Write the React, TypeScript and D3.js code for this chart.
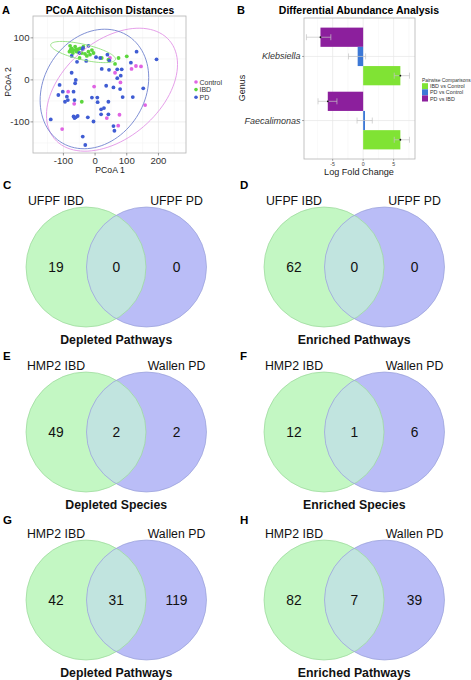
import React from 'react';
import * as d3 from 'd3';

// ---- panel A data: PCoA coordinates ----
const controlPts: [number, number][] = [
  [47, 52], [63, 17], [80, -6], [-3, -16], [-85, -28], [-66, -57], [37, -91],
  [77, -83], [73, -109], [-104, -117], [115, 26], [129, 33], [145, 32], [158, -60],
];
const ibdPts: [number, number][] = [
  [-79, 81], [-74, 75], [-68, 71], [-81, 67], [-63, 79], [-58, 67], [-70, 64],
  [-53, 73], [-47, 75], [-37, 79], [-42, 64], [-32, 62], [-21, 67], [-16, 60],
  [-10, 71], [-5, 64], [-49, 52], [-26, 57], [-77, 72], [-72, 68], [-60, 72],
  [21, 52], [42, 48], [74, 52], [100, 56], [63, 38], [-42, -52],
];
const pdPts: [number, number][] = [
  [-21, 81], [-39, 73], [-74, 57], [3, 54], [16, 52], [39, 60], [45, 46],
  [21, 26], [44, 24], [70, 25], [84, 25], [113, 41], [131, 67], [194, 49],
  [-74, 17], [-61, 0], [-63, -8], [-112, -12], [-102, -28], [-116, -36],
  [-89, -40], [-68, -28], [-95, -52], [-86, -48], [-65, -48], [-68, -87],
  [-61, -89], [-55, -86], [-65, -91], [-140, -94], [-23, -89], [-5, -99],
  [-39, -135], [-31, -155], [-10, -42], [7, -42], [8, -53], [19, -70],
  [28, -67], [19, -82], [42, -82], [42, -52], [35, -14], [58, -18], [79, -22],
  [87, -41], [119, -41], [152, -20], [70, 4], [81, 10], [58, -110], [61, -121],
  [-57, 43], [-28, 45], [-50, 64], [-38, 76],
];
const groups = ['Control', 'IBD', 'PD'];
const groupPts = [controlPts, ibdPts, pdPts];
const groupColors = ['#df64e3', '#5cd63d', '#3f5cd3'];
const ellipseColors = ['#e294e6', '#90e07a', '#7283cf'];
const pcoaXTicks = [-100, 0, 100, 200];
const pcoaYTicks = [-100, 0, 100];

// ---- panel B data: log fold change per genus ----
const genera = ['Klebsiella', 'Faecalimonas'];
const comparisons = ['PD vs IBD', 'PD vs Control', 'IBD vs Control'];
const legendOrder = ['IBD vs Control', 'PD vs Control', 'PD vs IBD'];
const compColors: Record<string, string> = {
  'IBD vs Control': '#80e334',
  'PD vs Control': '#3c78d6',
  'PD vs IBD': '#8c1f9d',
};
const klebsiellaLfc = [-7.0, -0.9, 6.1];
const klebsiellaLow = [-9.3, -2.4, 5.1];
const klebsiellaHigh = [-5.3, 0.4, 7.6];
const faecalimonasLfc = [-5.8, 0.3, 6.1];
const faecalimonasLow = [-7.4, -1.0, 5.1];
const faecalimonasHigh = [-4.3, 1.5, 7.6];
const lfcTicks = [-5, 0, 5];

// ---- Venn panels ----
const vennTags = ['C', 'D', 'E', 'F', 'G', 'H'];
const vennLeftNames = ['UFPF IBD', 'UFPF IBD', 'HMP2 IBD', 'HMP2 IBD', 'HMP2 IBD', 'HMP2 IBD'];
const vennRightNames = ['UFPF PD', 'UFPF PD', 'Wallen PD', 'Wallen PD', 'Wallen PD', 'Wallen PD'];
const vennLeftOnly = [19, 62, 49, 12, 42, 82];
const vennShared = [0, 0, 2, 1, 31, 7];
const vennRightOnly = [0, 0, 2, 6, 119, 39];
const vennTitles = [
  'Depleted Pathways', 'Enriched Pathways',
  'Depleted Species', 'Enriched Species',
  'Depleted Pathways', 'Enriched Pathways',
];

const FONT = 'Liberation Sans, Arial, sans-serif';

// robust (multivariate t) ellipse, like ggplot's stat_ellipse
function trobEllipse(pts: [number, number][], level = 0.95) {
  const n = pts.length, nu = 5, p = 2;
  let w = pts.map(() => 1);
  let loc = [d3.mean(pts, (d) => d[0])!, d3.mean(pts, (d) => d[1])!];
  let X = pts.map((d) => [d[0] - loc[0], d[1] - loc[1]]);
  for (let it = 0; it < 100; it++) {
    X = pts.map((d) => [d[0] - loc[0], d[1] - loc[1]]);
    const sw = d3.sum(w);
    let a = 0, b = 0, c = 0;
    X.forEach((x, i) => {
      a += w[i] * x[0] * x[0];
      b += w[i] * x[0] * x[1];
      c += w[i] * x[1] * x[1];
    });
    a /= sw; b /= sw; c /= sw;
    const det = a * c - b * b;
    const Q = X.map((x) => (c * x[0] * x[0] - 2 * b * x[0] * x[1] + a * x[1] * x[1]) / det);
    w = Q.map((q) => (nu + p) / (nu + q));
    const sw2 = d3.sum(w);
    loc = [d3.sum(pts, (d, i) => w[i] * d[0]) / sw2, d3.sum(pts, (d, i) => w[i] * d[1]) / sw2];
  }
  let a = 0, b = 0, c = 0;
  X.forEach((x, i) => {
    a += w[i] * x[0] * x[0];
    b += w[i] * x[0] * x[1];
    c += w[i] * x[1] * x[1];
  });
  a /= n; b /= n; c /= n;
  const dfd = n - 1;
  const qf = (dfd / 2) * (Math.pow(1 - level, -2 / dfd) - 1);
  const radius = Math.sqrt(2 * qf);
  const r11 = Math.sqrt(a), r12 = b / r11, r22 = Math.sqrt(c - r12 * r12);
  return d3.range(0, 101).map((k) => {
    const t = (k / 100) * 2 * Math.PI;
    const u = Math.cos(t), v = Math.sin(t);
    return [loc[0] + radius * u * r11, loc[1] + radius * (u * r12 + v * r22)] as [number, number];
  });
}

function PanelA() {
  const x = d3.scaleLinear().domain([-196, 287]).range([33, 186]);
  const y = d3.scaleLinear().domain([-174, 152]).range([153, 16]);
  const line = d3.line<[number, number]>().x((d) => x(d[0])).y((d) => y(d[1]));
  const minorX = [-150, -50, 50, 150, 250];
  const minorY = [-150, -50, 50, 150];
  return (
    <g fontFamily={FONT}>
      <text x={2} y={14} fontSize={11} fontWeight="bold">A</text>
      <text x={110} y={14} fontSize={10.3} fontWeight="bold" textAnchor="middle">PCoA Aitchison Distances</text>
      <clipPath id="clipA"><rect x={33} y={16} width={153} height={137} /></clipPath>
      <rect x={33} y={16} width={153} height={137} fill="#fff" />
      {minorX.map((v) => <line key={'mx' + v} x1={x(v)} x2={x(v)} y1={16} y2={153} stroke="#f3f3f3" strokeWidth={0.5} />)}
      {minorY.map((v) => <line key={'my' + v} x1={33} x2={186} y1={y(v)} y2={y(v)} stroke="#f3f3f3" strokeWidth={0.5} />)}
      {pcoaXTicks.map((v) => <line key={'gx' + v} x1={x(v)} x2={x(v)} y1={16} y2={153} stroke="#e6e6e6" strokeWidth={0.7} />)}
      {pcoaYTicks.map((v) => <line key={'gy' + v} x1={33} x2={186} y1={y(v)} y2={y(v)} stroke="#e6e6e6" strokeWidth={0.7} />)}
      <g clipPath="url(#clipA)">
        {groupPts.map((pts, gi) =>
          pts.map((d, i) => <circle key={gi + '-' + i} cx={x(d[0])} cy={y(d[1])} r={1.9} fill={groupColors[gi]} />)
        )}
        {groupPts.map((pts, gi) => (
          <path key={'e' + gi} d={line(trobEllipse(pts)) || ''} fill="none" stroke={ellipseColors[gi]} strokeWidth={0.9} />
        ))}
      </g>
      <rect x={33} y={16} width={153} height={137} fill="none" stroke="#b5b5b5" strokeWidth={0.8} />
      {pcoaXTicks.map((v) => (
        <g key={'tx' + v}>
          <line x1={x(v)} x2={x(v)} y1={153} y2={155.5} stroke="#555" strokeWidth={0.6} />
          <text x={x(v)} y={163.5} fontSize={9.6} textAnchor="middle" fill="#333">{v}</text>
        </g>
      ))}
      {pcoaYTicks.map((v) => (
        <g key={'ty' + v}>
          <line x1={30.5} x2={33} y1={y(v)} y2={y(v)} stroke="#555" strokeWidth={0.6} />
          <text x={29.5} y={y(v)} fontSize={9.6} textAnchor="end" dominantBaseline="central" fill="#333">{v}</text>
        </g>
      ))}
      <text x={110} y={173} fontSize={8.7} textAnchor="middle" fill="#222">PCoA 1</text>
      <text transform="translate(8,82) rotate(-90)" fontSize={8.7} textAnchor="middle" dominantBaseline="central" fill="#222">PCoA 2</text>
      {groups.map((g, i) => (
        <g key={g}>
          <circle cx={196} cy={82 + i * 7.6} r={1.8} fill={groupColors[i]} />
          <text x={199.5} y={82 + i * 7.6} fontSize={7} dominantBaseline="central" fill="#333">{g}</text>
        </g>
      ))}
    </g>
  );
}

function PanelB() {
  const x = d3.scaleLinear().domain([-9.7, 8.5]).range([304, 415]);
  const yGenus = d3.scalePoint<string>().domain(genera).range([18, 159]).padding(0.6);
  const step = yGenus.step();
  const yComp = d3.scaleBand<string>().domain(comparisons).range([-0.45 * step, 0.45 * step]);
  const lfc = [klebsiellaLfc, faecalimonasLfc];
  const low = [klebsiellaLow, faecalimonasLow];
  const high = [klebsiellaHigh, faecalimonasHigh];
  const minorX = [-7.5, -2.5, 2.5, 7.5];
  const bw = yComp.bandwidth();
  return (
    <g fontFamily={FONT}>
      <text x={237} y={14} fontSize={11} fontWeight="bold">B</text>
      <text x={359} y={14} fontSize={10.5} fontWeight="bold" textAnchor="middle">Differential Abundance Analysis</text>
      <rect x={304} y={18} width={111} height={141} fill="#fff" />
      {minorX.map((v) => <line key={'m' + v} x1={x(v)} x2={x(v)} y1={18} y2={159} stroke="#f3f3f3" strokeWidth={0.5} />)}
      {lfcTicks.map((v) => <line key={'g' + v} x1={x(v)} x2={x(v)} y1={18} y2={159} stroke="#e6e6e6" strokeWidth={0.7} />)}
      {genera.map((g) => <line key={'gy' + g} x1={304} x2={415} y1={yGenus(g)} y2={yGenus(g)} stroke="#e6e6e6" strokeWidth={0.7} />)}
      {genera.map((g, gi) =>
        comparisons.map((c, ci) => {
          const yc = yGenus(g)! + yComp(c)!;
          const v = lfc[gi][ci];
          return (
            <rect key={g + c} x={Math.min(x(0), x(v))} width={Math.abs(x(v) - x(0))} y={yc} height={bw} fill={compColors[c]} />
          );
        })
      )}
      {genera.map((g, gi) =>
        comparisons.map((c, ci) => {
          const ym = yGenus(g)! + yComp(c)! + bw / 2;
          return (
            <g key={'eb' + g + c} stroke="#c4c4c4" strokeWidth={0.7}>
              <line x1={x(low[gi][ci])} x2={x(high[gi][ci])} y1={ym} y2={ym} />
              <line x1={x(low[gi][ci])} x2={x(low[gi][ci])} y1={ym - 3} y2={ym + 3} />
              <line x1={x(high[gi][ci])} x2={x(high[gi][ci])} y1={ym - 3} y2={ym + 3} />
            </g>
          );
        })
      )}
      {genera.map((g, gi) =>
        comparisons.map((c, ci) => {
          const ym = yGenus(g)! + yComp(c)! + bw / 2;
          return ci === 1 ? null : <circle key={'pt' + g + c} cx={x(lfc[gi][ci])} cy={ym} r={0.9} fill="#111" />;
        })
      )}
      <rect x={304} y={18} width={111} height={141} fill="none" stroke="#b5b5b5" strokeWidth={0.8} />
      {lfcTicks.map((v) => (
        <g key={'t' + v}>
          <line x1={x(v)} x2={x(v)} y1={159} y2={161} stroke="#555" strokeWidth={0.5} />
          <text x={x(v)} y={166} fontSize={5.2} textAnchor="middle" fill="#444">{v}</text>
        </g>
      ))}
      {genera.map((g) => (
        <g key={'l' + g}>
          <line x1={302} x2={304} y1={yGenus(g)} y2={yGenus(g)} stroke="#555" strokeWidth={0.5} />
          <text x={300.5} y={yGenus(g)} fontSize={9} fontStyle="italic" textAnchor="end" dominantBaseline="central" fill="#333">{g}</text>
        </g>
      ))}
      <text x={359} y={175} fontSize={9.1} textAnchor="middle" fill="#222">Log Fold Change</text>
      <text transform="translate(242,88) rotate(-90)" fontSize={9} textAnchor="middle" dominantBaseline="central" fill="#222">Genus</text>
      <text x={422} y={81.5} fontSize={4.9} fill="#333">Pairwise Comparisons</text>
      {legendOrder.map((c, i) => (
        <g key={'lg' + c}>
          <rect x={422} y={83.2 + i * 6.1} width={6} height={6.1} fill={compColors[c]} />
          <text x={430} y={86.3 + i * 6.1} fontSize={5.4} dominantBaseline="central" fill="#333">{c}</text>
        </g>
      ))}
    </g>
  );
}

function Venn({ idx }: { idx: number }) {
  const col = idx % 2, row = Math.floor(idx / 2);
  const colX = [86, 324];
  const rowY = [267, 432, 600];
  const tagY = [185, 356, 520];
  const r = 60, sep = 60.5;
  const cxL = colX[col], cxR = colX[col] + sep, cy = rowY[row];
  const clipId = 'vclip' + idx;
  return (
    <g fontFamily={FONT}>
      <text x={col === 0 ? 3 : 240} y={tagY[row]} fontSize={11.5} fontWeight="bold" dominantBaseline="central">{vennTags[idx]}</text>
      <text x={cxL - 30} y={cy - 66} fontSize={12.3} textAnchor="middle" dominantBaseline="central" fill="#111">{vennLeftNames[idx]}</text>
      <text x={cxR + 30} y={cy - 66} fontSize={12.3} textAnchor="middle" dominantBaseline="central" fill="#111">{vennRightNames[idx]}</text>
      <clipPath id={clipId}><circle cx={cxL} cy={cy} r={r} /></clipPath>
      <circle cx={cxL} cy={cy} r={r} fill="#c3f7c3" />
      <circle cx={cxR} cy={cy} r={r} fill="#babdf7" />
      <circle cx={cxR} cy={cy} r={r} fill="#c1e4df" clipPath={`url(#${clipId})`} />
      <circle cx={cxL} cy={cy} r={r} fill="none" stroke="#9ad79a" strokeWidth={0.7} />
      <circle cx={cxR} cy={cy} r={r} fill="none" stroke="#9aa0d8" strokeWidth={0.7} />
      <text x={cxL - 30} y={cy} fontSize={13.8} textAnchor="middle" dominantBaseline="central" fill="#111">{vennLeftOnly[idx]}</text>
      <text x={(cxL + cxR) / 2} y={cy} fontSize={13.8} textAnchor="middle" dominantBaseline="central" fill="#111">{vennShared[idx]}</text>
      <text x={cxR + 30} y={cy} fontSize={13.8} textAnchor="middle" dominantBaseline="central" fill="#111">{vennRightOnly[idx]}</text>
      <text x={(cxL + cxR) / 2} y={cy + 73} fontSize={12.3} fontWeight="bold" textAnchor="middle" dominantBaseline="central" fill="#111">{vennTitles[idx]}</text>
    </g>
  );
}

export default function App() {
  return (
    <svg width={471} height={680} style={{ position: 'absolute', left: 0, top: 0, background: '#fff' }}>
      <rect width={471} height={680} fill="#fff" />
      <PanelA />
      <PanelB />
      {vennTags.map((t, i) => <Venn key={t} idx={i} />)}
    </svg>
  );
}
